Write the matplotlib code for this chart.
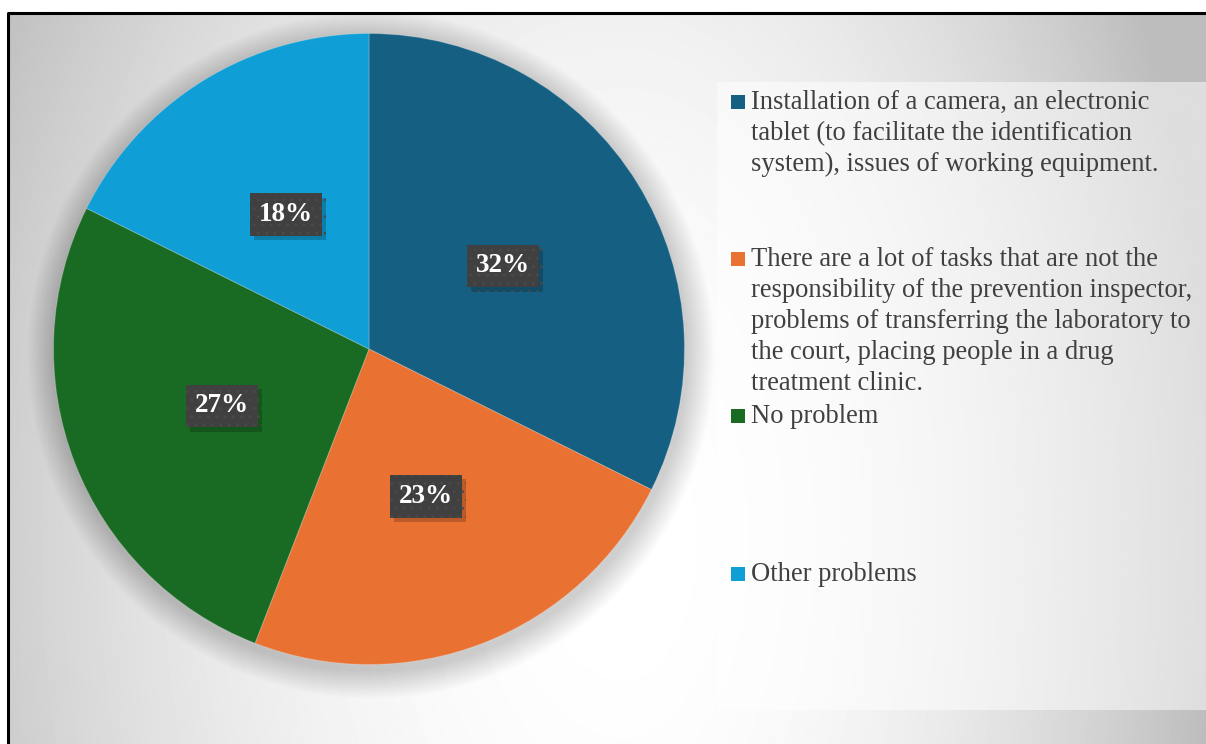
import numpy as np
import matplotlib.pyplot as plt
from matplotlib.patches import Rectangle, Circle
from matplotlib import patheffects

# survey answers: slice sizes (counts) and the printed data labels
categories = [
    "Installation of a camera, an electronic\ntablet (to facilitate the identification\nsystem), issues of working equipment.",
    "There are a lot of tasks that are not the\nresponsibility of the prevention inspector,\nproblems of transferring the laboratory to\nthe court, placing people in a drug\ntreatment clinic.",
    "No problem",
    "Other problems",
]
counts = [11, 8, 9, 6]
pct_labels = ["32%", "23%", "27%", "18%"]
colors = ["#156082", "#E97132", "#196B24", "#0F9ED5"]

W, H = 1206, 744


def Y(y):
    # pixel rows from the top -> axes y (upwards)
    return H - y


fig = plt.figure(figsize=(W / 100, H / 100), dpi=100)
fig.patch.set_facecolor("white")
ax = fig.add_axes([0, 0, 1, 1])

# background: soft grey gradient, light in the lower middle
xx, yy = np.meshgrid(np.arange(W), np.arange(H))
dx = xx - 620.0
sx = np.where(dx < 0, 640.0, 520.0)
r2 = (dx / sx) ** 2 + ((yy - 540.0) / 1000.0) ** 2
bg = np.clip(1 - 0.2 * r2, 0.74, 1.0)
ax.imshow(bg, cmap="gray", vmin=0, vmax=1, extent=(8, W, 0, Y(13)),
          origin="upper", zorder=0, aspect="auto",
          interpolation="bilinear")
ax.plot([8, 8, W], [0, Y(13), Y(13)], color="black", lw=2.2, zorder=1,
        solid_capstyle="projecting")

# legend panel (lighter box)
ax.add_patch(Rectangle((717, Y(710)), W - 717 + 5, 628, facecolor="white",
                       alpha=0.5, edgecolor="none", zorder=1))

# pie with a soft shadow
cx, cy, R = 369, Y(349), 315.5
n_sh = 24
for i in range(n_sh):
    rad = R + 28 * (1 - i / n_sh)
    ax.add_patch(Circle((cx + 2, cy - 6), rad, facecolor="black",
                        alpha=0.006, edgecolor="none", zorder=2))

wedges, texts = ax.pie(
    counts, colors=colors, startangle=90, counterclock=False,
    radius=R, center=(cx, cy),
    wedgeprops=dict(edgecolor=(1, 1, 1, 0.2), linewidth=0.8))
for w in wedges:
    w.set_zorder(3)

# data labels at half radius on each slice's middle angle
plt.rcParams["hatch.linewidth"] = 0.8
shares = np.array(counts) / sum(counts)
mid = 90 - 360 * (np.cumsum(shares) - shares / 2)
for ang, lab in zip(np.deg2rad(mid), pct_labels):
    t = ax.text(cx + 0.5 * R * np.cos(ang), cy + 0.5 * R * np.sin(ang), lab,
                color="white", fontsize=19.5, fontweight="bold",
                family="Liberation Serif", ha="center", va="center",
                zorder=5)
    t.set_bbox(dict(boxstyle="square,pad=0.33", facecolor="#404040",
                    edgecolor="#4a4a4a", linewidth=0, hatch=".."))
    t.get_bbox_patch().set_path_effects([
        patheffects.SimplePatchShadow(offset=(3, -3), shadow_rgbFace="black",
                                      alpha=0.2),
        patheffects.Normal()])

ax.set_xlim(0, W)
ax.set_ylim(0, H)
ax.axis("off")

# legend entries
entry_top = [102, 259, 416, 574]
line_step = 31
for lab, col, y0 in zip(categories, colors, entry_top):
    ax.add_patch(Rectangle((731, Y(y0 + 7)), 14, 14, facecolor=col,
                           edgecolor="none", zorder=4))
    for j, line in enumerate(lab.split("\n")):
        ax.text(751, Y(y0 + 7 + j * line_step), line, fontsize=19.1,
                family="Liberation Serif", color="#404040",
                va="baseline", ha="left", zorder=4)

fig.savefig("out.png", dpi=100)
